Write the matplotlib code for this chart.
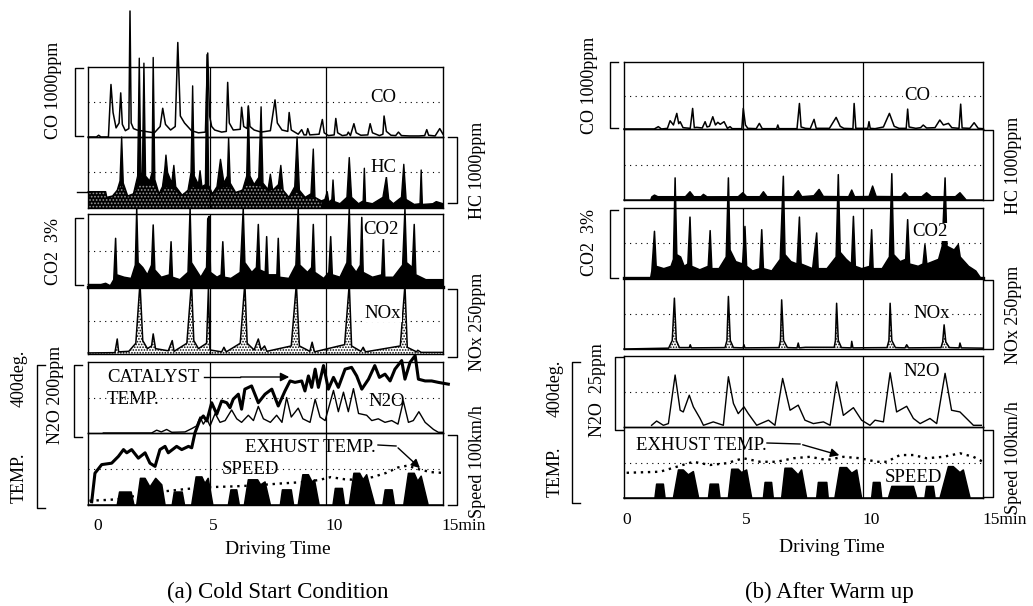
import numpy as np
import matplotlib
matplotlib.use('Agg')
import matplotlib.pyplot as plt
from matplotlib.lines import Line2D
from matplotlib.patches import FancyArrowPatch

plt.rcParams['font.family'] = ['Liberation Serif', 'DejaVu Serif']
plt.rcParams['hatch.linewidth'] = 0.8

# ---------------- (a) cold start : (time min, value) ----------------
CO_L = [(-0.25, 0), (0.1, 0), (0.2, 25), (0.3, 0), (0.62, 0), (0.73, 750), (0.82, 350), (0.95, 130),
        (1.08, 200), (1.15, 630), (1.22, 180), (1.35, 90), (1.5, 120), (1.55, 1800), (1.6, 200),
        (1.7, 120), (1.85, 100), (2.2, 80), (2.6, 60), (2.85, 150), (2.96, 410), (3.08, 180),
        (3.3, 100), (3.5, 150), (3.61, 1350), (3.72, 300), (3.9, 200), (4.2, 90), (4.5, 60),
        (4.8, 70), (4.9, 1200), (4.98, 300), (5.07, 150), (5.2, 100), (5.5, 70), (5.7, 80),
        (5.76, 780), (5.83, 200), (6.0, 100), (6.3, 110), (6.36, 425), (6.45, 150), (6.6, 120),
        (6.65, 445), (6.72, 150), (6.9, 100), (7.2, 70), (7.6, 90), (7.8, 530), (7.9, 200),
        (8.1, 100), (8.35, 80), (8.41, 350), (8.5, 100), (8.8, 40), (8.95, 105), (9.05, 30),
        (9.15, 30), (9.21, 120), (9.3, 30), (9.7, 40), (9.84, 250), (9.92, 60), (10.1, 20),
        (10.35, 30), (10.42, 265), (10.5, 60), (10.7, 20), (10.9, 30), (10.96, 70), (11.05, 20),
        (11.2, 190), (11.3, 60), (11.5, 25), (11.8, 30), (11.9, 190), (12.0, 60), (12.3, 20),
        (12.45, 40), (12.5, 300), (12.6, 80), (12.8, 25), (13.0, 20), (13.12, 70), (13.25, 20),
        (13.6, 15), (14.0, 15), (14.25, 20), (14.34, 105), (14.42, 25), (14.7, 15), (14.9, 120),
        (15.04, 40)]

HC_L = [(-0.25, 230), (0.5, 230), (0.55, 150), (0.8, 170), (1.0, 250), (1.12, 380), (1.19, 1000),
        (1.26, 350), (1.45, 170), (1.7, 200), (1.88, 450), (1.95, 2110), (2.02, 500), (2.08, 400),
        (2.15, 2040), (2.22, 450), (2.4, 380), (2.5, 500), (2.55, 2120), (2.62, 400), (2.8, 200),
        (2.95, 300), (3.05, 550), (3.1, 745), (3.17, 500), (3.35, 350), (3.44, 600), (3.52, 300),
        (3.8, 180), (4.05, 250), (4.18, 500), (4.25, 1720), (4.32, 450), (4.5, 330), (4.57, 525),
        (4.65, 300), (4.8, 330), (4.87, 2160), (4.94, 320), (5.1, 200), (5.3, 300), (5.45, 685),
        (5.6, 350), (5.75, 450), (5.8, 990), (5.87, 350), (6.1, 220), (6.4, 250), (6.58, 450),
        (6.65, 1425), (6.72, 450), (6.9, 330), (7.1, 430), (7.2, 1425), (7.28, 350), (7.5, 260),
        (7.6, 475), (7.7, 250), (7.95, 330), (8.05, 600), (8.15, 250), (8.4, 150), (8.65, 300),
        (8.75, 1000), (8.85, 250), (9.1, 150), (9.35, 200), (9.45, 830), (9.52, 150), (9.8, 100),
        (9.95, 120), (10.05, 230), (10.12, 80), (10.25, 120), (10.3, 395), (10.36, 90), (10.6, 60),
        (10.9, 150), (11.0, 710), (11.1, 150), (11.4, 60), (11.6, 100), (11.65, 560), (11.7, 80),
        (12.0, 60), (12.45, 150), (12.6, 440), (12.7, 120), (12.9, 60), (13.25, 150), (13.35, 615),
        (13.45, 120), (13.8, 50), (14.05, 60), (14.1, 535), (14.15, 50), (14.6, 60), (14.75, 90),
        (15.04, 60)]

HC_L_HUMP = [(-0.25, 230), (0.5, 230), (0.55, 130), (0.8, 160), (1.0, 240), (1.19, 330), (1.45, 160),
             (1.7, 200), (1.95, 330), (2.2, 320), (2.55, 330), (2.8, 190), (3.1, 290), (3.44, 260),
             (3.8, 170), (4.25, 300), (4.6, 260), (4.87, 280), (5.1, 190), (5.45, 280), (5.8, 300),
             (6.1, 210), (6.65, 330), (7.2, 300), (7.5, 240), (8.05, 280), (8.4, 140), (8.75, 220),
             (9.1, 120), (9.45, 150), (9.8, 90)]

CO2_L = [(-0.25, 0.1), (0.3, 0.1), (0.5, 0.15), (0.7, 0.05), (0.85, 0.3), (0.93, 2.0), (0.98, 0.5),
         (1.3, 0.4), (1.6, 0.35), (1.78, 0.9), (1.84, 3.2), (1.9, 1.0), (2.1, 0.8), (2.3, 0.5),
         (2.48, 0.9), (2.55, 2.55), (2.62, 0.7), (2.9, 0.4), (3.25, 0.5), (3.32, 1.86), (3.38, 0.4),
         (3.7, 0.3), (4.05, 0.6), (4.14, 3.2), (4.2, 1.0), (4.4, 0.7), (4.6, 0.4), (4.85, 0.8),
         (4.9, 2.8), (4.96, 2.9), (5.02, 0.6), (5.3, 0.4), (5.48, 0.5), (5.55, 1.86), (5.62, 0.4),
         (5.9, 0.35), (6.3, 0.6), (6.43, 3.2), (6.5, 1.0), (6.8, 0.6), (7.0, 0.8), (7.08, 2.57),
         (7.15, 0.7), (7.38, 0.6), (7.44, 2.07), (7.5, 0.5), (7.88, 0.5), (7.94, 2.0), (8.0, 0.4),
         (8.4, 0.35), (8.7, 0.9), (8.8, 3.2), (8.87, 0.9), (9.2, 0.6), (9.38, 0.8), (9.45, 2.57),
         (9.52, 0.6), (9.9, 0.35), (10.12, 0.6), (10.2, 2.07), (10.27, 0.5), (10.6, 0.4), (10.9, 1.0),
         (11.0, 3.2), (11.07, 0.9), (11.3, 0.6), (11.48, 0.9), (11.54, 2.86), (11.6, 0.6), (12.0, 0.4),
         (12.4, 0.5), (12.47, 2.07), (12.53, 0.4), (12.9, 0.4), (13.3, 0.9), (13.4, 3.2), (13.47, 1.0),
         (13.72, 0.8), (13.8, 2.57), (13.87, 0.5), (14.3, 0.3), (15.04, 0.3)]

NOX_L = [(-0.25, 4), (0.9, 5), (1.0, 56), (1.06, 8), (1.5, 10), (1.8, 40), (1.98, 265), (2.1, 50),
         (2.3, 20), (2.48, 30), (2.55, 75), (2.65, 20), (3.2, 12), (3.37, 50), (3.45, 10), (4.0, 40),
         (4.2, 268), (4.3, 50), (4.5, 20), (4.85, 40), (4.93, 245), (5.0, 15), (5.5, 8), (5.6, 25),
         (5.7, 8), (6.3, 40), (6.5, 265), (6.6, 40), (6.9, 15), (7.08, 56), (7.2, 15), (7.35, 30),
         (7.45, 10), (8.5, 30), (8.72, 262), (8.85, 30), (9.3, 10), (9.4, 44), (9.5, 8), (10.8, 35),
         (11.0, 262), (11.1, 30), (11.5, 10), (11.6, 25), (11.7, 8), (13.2, 30), (13.4, 258),
         (13.5, 25), (13.9, 8), (13.95, 14), (14.1, 6), (15.04, 6)]

N2O_L = [(0.4, 0), (2.48, 0), (2.7, 8), (2.9, 3), (3.13, 10), (3.35, 2), (3.92, 3), (4.2, 12),
         (4.42, 20), (4.57, 45), (4.71, 25), (4.86, 40), (5.0, 20), (5.22, 55), (5.43, 30), (5.65, 35),
         (5.93, 65), (6.15, 40), (6.36, 30), (6.65, 50), (6.87, 35), (7.08, 75), (7.3, 40), (7.6, 30),
         (7.87, 50), (8.1, 30), (8.3, 100), (8.5, 45), (8.8, 70), (9.0, 40), (9.31, 30), (9.53, 95),
         (9.74, 45), (9.96, 35), (10.32, 120), (10.53, 60), (10.75, 115), (10.96, 60), (11.18, 125),
         (11.4, 55), (11.75, 50), (11.97, 35), (12.25, 40), (12.54, 30), (12.83, 35), (13.1, 25),
         (13.33, 90), (13.55, 30), (13.76, 35), (14.0, 60), (14.27, 30), (14.63, 10), (14.84, 2),
         (15.04, 2)]

CAT_L = [(-0.1, 9), (0.04, 89), (0.33, 113), (0.76, 117), (1.05, 136), (1.27, 155), (1.41, 146),
         (1.62, 155), (1.91, 131), (2.2, 146), (2.41, 117), (2.63, 108), (2.84, 155), (3.06, 164),
         (3.2, 146), (3.56, 164), (3.78, 155), (4.07, 164), (4.21, 160), (4.35, 202), (4.57, 239),
         (4.71, 249), (4.86, 235), (5.07, 286), (5.29, 254), (5.5, 291), (5.72, 286), (5.86, 272),
         (6.0, 296), (6.22, 310), (6.36, 268), (6.5, 324), (6.79, 333), (7.08, 286), (7.37, 310),
         (7.66, 324), (7.94, 277), (8.23, 319), (8.45, 347), (8.66, 343), (8.95, 347), (9.09, 319),
         (9.24, 361), (9.38, 329), (9.53, 380), (9.67, 329), (9.89, 390), (10.1, 324), (10.32, 357),
         (10.53, 329), (10.82, 380), (11.1, 385), (11.32, 361), (11.54, 324), (11.83, 352),
         (12.1, 390), (12.3, 357), (12.54, 366), (12.76, 347), (12.97, 380), (13.26, 404),
         (13.4, 352), (13.62, 399), (13.84, 418), (13.98, 352), (14.27, 347), (14.55, 347),
         (14.84, 343), (15.27, 338)]

EXH_L = [(-0.2, 12), (0.5, 14), (1.0, 16), (2.0, 28), (3.0, 38), (4.0, 45), (5.0, 50), (6.0, 52),
         (7.0, 55), (8.0, 60), (9.0, 64), (9.7, 70), (10.2, 78), (10.8, 72), (11.4, 70), (12.0, 78),
         (12.6, 90), (13.1, 105), (13.5, 110), (14.0, 100), (14.5, 92), (15.0, 90)]

SPEED_L = [(-0.25, 0), (1.0, 0), (1.1, 18), (1.6, 18), (1.72, 0),
           (1.84, 0), (2.0, 37), (2.2, 37), (2.41, 25), (2.66, 37), (2.92, 28), (3.06, 0),
           (3.37, 0), (3.46, 18), (3.8, 18), (3.9, 0),
           (4.21, 0), (4.4, 39), (4.65, 39), (4.78, 30), (4.92, 37), (5.12, 0),
           (5.79, 0), (5.9, 21), (6.15, 21), (6.26, 0),
           (6.48, 0), (6.65, 35), (7.05, 35), (7.18, 28), (7.37, 32), (7.6, 0),
           (8.03, 0), (8.12, 21), (8.5, 21), (8.6, 0),
           (8.8, 0), (9.0, 42), (9.24, 42), (9.4, 32), (9.5, 35), (9.7, 0),
           (10.3, 0), (10.4, 23), (10.7, 23), (10.8, 0),
           (11.0, 0), (11.2, 44), (11.45, 44), (11.6, 35), (11.75, 42), (12.1, 0),
           (12.45, 0), (12.55, 21), (12.85, 21), (12.95, 0),
           (13.35, 0), (13.55, 44), (13.8, 44), (13.95, 33), (14.1, 40), (14.4, 0), (15.04, 0)]

# ---------------- (b) after warm up ----------------
CO_R = [(0.04, 0), (1.3, 0), (1.47, 35), (1.6, 0), (1.85, 10), (1.96, 124), (2.1, 60), (2.24, 233),
        (2.32, 80), (2.38, 109), (2.5, 20), (2.8, 10), (2.9, 307), (2.97, 20), (3.07, 25), (3.3, 15),
        (3.42, 109), (3.5, 30), (3.6, 40), (3.74, 183), (3.85, 60), (3.95, 100), (4.05, 70),
        (4.21, 109), (4.35, 10), (4.46, 35), (4.55, 5), (4.95, 5), (5.01, 307), (5.1, 60), (5.2, 10),
        (5.55, 5), (5.68, 84), (5.8, 5), (6.4, 5), (6.45, 60), (6.5, 5), (7.25, 5), (7.35, 381),
        (7.42, 30), (7.6, 10), (7.8, 5), (7.96, 144), (8.05, 10), (8.6, 10), (8.88, 173), (9.05, 40),
        (9.2, 10), (9.58, 5), (9.63, 381), (9.7, 10), (10.2, 10), (10.25, 110), (10.3, 10), (10.5, 5),
        (10.85, 30), (11.1, 233), (11.3, 40), (11.5, 10), (11.8, 10), (11.86, 297), (11.92, 30),
        (12.2, 10), (12.4, 20), (12.51, 59), (12.65, 15), (13.0, 20), (13.2, 134), (13.35, 60),
        (13.56, 84), (13.7, 20), (14.0, 10), (14.07, 371), (14.13, 15), (14.45, 10), (14.63, 94),
        (14.8, 10), (15.0, 5)]

HC_R = [(0.04, 0), (1.15, 0), (1.2, 45), (1.31, 70), (1.45, 47), (2.6, 47), (2.79, 117), (2.95, 47),
        (3.25, 47), (3.35, 80), (3.5, 45), (4.8, 47), (4.99, 103), (5.15, 47), (5.7, 47), (5.85, 117),
        (6.0, 47), (7.1, 47), (7.3, 131), (7.45, 47), (7.95, 60), (8.17, 150), (8.35, 50), (9.4, 47),
        (9.53, 141), (9.65, 47), (10.25, 50), (10.4, 197), (10.55, 50), (11.6, 47), (11.75, 103),
        (11.9, 47), (12.45, 47), (12.65, 103), (12.85, 47), (13.85, 47), (14.04, 103), (14.2, 40),
        (14.3, 0), (15.0, 0)]

CO2_R = [(0.04, 0), (1.15, 0), (1.2, 0.3), (1.31, 2.0), (1.38, 0.5), (1.7, 0.4), (2.0, 0.5), (2.1, 0.8),
         (2.17, 4.29), (2.24, 1.0), (2.4, 0.9), (2.55, 0.5), (2.7, 0.6), (2.79, 2.61), (2.86, 0.5),
         (3.2, 0.35), (3.55, 0.5), (3.63, 2.03), (3.7, 0.4), (4.0, 0.4), (4.3, 0.9), (4.39, 4.29),
         (4.46, 1.2), (4.7, 0.7), (4.98, 0.6), (5.08, 2.21), (5.15, 0.5), (5.4, 0.3), (5.7, 0.4),
         (5.78, 2.07), (5.85, 0.4), (6.2, 0.3), (6.55, 0.8), (6.68, 4.36), (6.75, 1.0), (7.0, 0.7),
         (7.25, 0.6), (7.35, 2.61), (7.42, 0.6), (7.9, 0.4), (8.07, 1.93), (8.13, 0.4), (8.5, 0.4),
         (8.88, 0.9), (8.97, 4.43), (9.05, 1.1), (9.3, 0.8), (9.52, 0.6), (9.6, 2.64), (9.68, 0.5),
         (9.95, 0.4), (10.28, 0.5), (10.36, 2.07), (10.42, 0.4), (10.8, 0.4), (11.1, 0.9),
         (11.2, 4.47), (11.28, 1.0), (11.55, 0.7), (11.78, 0.8), (11.86, 2.5), (11.94, 0.6),
         (12.3, 0.5), (12.5, 0.6), (12.58, 1.43), (12.66, 0.6), (13.15, 0.8), (13.3, 1.36),
         (13.42, 4.29), (13.5, 1.36), (13.8, 1.2), (13.97, 1.43), (14.05, 0.9), (14.4, 0.5),
         (14.7, 0.3), (14.9, 0), (15.0, 0)]

NOX_R = [(0.04, 0), (1.9, 3), (2.05, 30), (2.14, 179), (2.22, 30), (2.35, 5), (2.76, 5), (2.8, 15),
         (2.85, 4), (4.25, 5), (4.33, 30), (4.39, 185), (4.47, 30), (4.6, 5), (5.0, 4), (5.04, 15),
         (5.08, 4), (6.5, 5), (6.56, 30), (6.61, 173), (6.69, 30), (6.85, 5), (7.25, 4), (7.3, 21),
         (7.35, 4), (7.6, 6), (8.0, 6), (8.8, 6), (8.85, 30), (8.9, 161), (8.97, 30), (9.1, 5),
         (9.5, 4), (9.53, 27), (9.58, 4), (11.0, 5), (11.08, 30), (11.13, 161), (11.2, 30), (11.35, 5),
         (11.75, 4), (11.82, 15), (11.9, 4), (13.25, 5), (13.32, 25), (13.38, 85), (13.45, 25),
         (13.6, 5), (14.0, 4), (14.04, 21), (14.1, 4), (15.0, 3)]

N2O_R = [(1.19, 0.6), (1.4, 2.1), (1.68, 0.6), (1.89, 1.2), (2.17, 18.3), (2.38, 5.9), (2.51, 5.3),
         (2.76, 11.2), (2.93, 7.1), (3.21, 3.0), (3.35, 0.6), (3.76, 1.8), (4.18, 0.6), (4.39, 17.7),
         (4.6, 8.3), (4.8, 4.7), (5.04, 7.1), (5.22, 4.7), (5.57, 0.6), (6.06, 2.4), (6.33, 0.6),
         (6.65, 17.1), (6.96, 5.9), (7.3, 7.7), (7.58, 2.4), (7.93, 1.2), (8.35, 1.8), (8.63, 0.6),
         (8.9, 15.9), (9.18, 4.1), (9.6, 6.8), (9.94, 2.4), (10.29, 0.6), (10.5, 2.4), (10.85, 1.8),
         (11.13, 19.1), (11.4, 5.3), (11.82, 7.3), (12.1, 3.0), (12.38, 1.2), (12.79, 3.0),
         (13.07, 1.2), (13.42, 18.9), (13.69, 5.9), (14.04, 5.3), (14.6, 0.6), (14.93, 0.6)]

EXH_R = [(0.15, 71), (1.54, 74), (2.24, 88), (2.93, 102), (3.63, 93), (4.32, 98), (5.01, 112),
         (5.71, 102), (6.4, 102), (7.1, 112), (7.79, 116), (8.49, 107), (9.18, 116), (9.88, 112),
         (10.57, 102), (10.99, 102), (11.54, 121), (12.1, 121), (12.65, 112), (13.35, 116),
         (14.04, 126), (14.6, 116), (15.0, 102)]

SPEED_R = [(0.04, 0), (1.33, 0), (1.4, 19.5), (1.68, 19.5), (1.75, 0),
           (2.1, 0), (2.31, 39.5), (2.51, 39.5), (2.72, 32.6), (2.93, 37.2), (3.15, 0),
           (3.56, 0), (3.63, 19.5), (3.97, 19.5), (4.04, 0),
           (4.39, 0), (4.53, 40.5), (4.8, 40.5), (4.94, 35.8), (5.15, 39.5), (5.36, 0),
           (5.85, 0), (5.92, 21.9), (6.19, 21.9), (6.26, 0),
           (6.61, 0), (6.75, 41.9), (7.03, 41.9), (7.3, 32.6), (7.44, 39.5), (7.65, 0),
           (8.07, 0), (8.14, 21.9), (8.49, 21.9), (8.55, 0),
           (8.83, 0), (9.04, 42.8), (9.32, 42.8), (9.53, 34.9), (9.74, 39.5), (9.94, 0),
           (10.36, 0), (10.43, 21.9), (10.71, 21.9), (10.78, 0),
           (11.06, 0), (11.2, 16.3), (12.1, 16.3), (12.24, 0),
           (12.58, 0), (12.65, 16.3), (12.93, 16.3), (13.0, 0),
           (13.21, 0), (13.56, 44.2), (13.76, 44.2), (14.04, 35.8), (14.18, 39.5), (14.46, 0), (15.0, 0)]

TICK_TIMES = [0, 5, 10, 15]
TICK_LABELS = ['0', '5', '10', '15min']

W, H = 1033, 606
fig = plt.figure(figsize=(W / 100, H / 100), dpi=100)
fig.patch.set_facecolor('white')


def fx(x):
    return x / W


def fy(y):
    return 1 - y / H


def xy(pairs):
    a = np.array(pairs, dtype=float)
    return a[:, 0], a[:, 1]


def box(x0, x1, y0, y1, xlim, ylim, grid=True, frame=True):
    ax = fig.add_axes([fx(x0), fy(y1), (x1 - x0) / W, (y1 - y0) / H])
    ax.set_xlim(*xlim)
    ax.set_ylim(*ylim)
    ax.patch.set_visible(False)
    ax.set_xticks([])
    ax.set_yticks([])
    for s in ax.spines.values():
        s.set_linewidth(1.0)
        s.set_visible(frame)
    if grid:
        ax.axhline((ylim[0] + ylim[1]) / 2, color='k', lw=0.8, ls=(0, (1, 4)))
        for v in (5, 10):
            ax.axvline(v, color='k', lw=0.9)
    return ax


def line(ax, pairs, **kw):
    t, v = xy(pairs)
    ax.plot(t, v, color='k', clip_on=False, **kw)


def area(ax, pairs, lw=1.1, **kw):
    t, v = xy(pairs)
    ax.fill_between(t, 0, v, clip_on=False, linewidth=0, **kw)
    ax.plot(t, v, color='k', lw=lw, clip_on=False)


def text(x, y, s, **kw):
    kw.setdefault('ha', 'center')
    kw.setdefault('va', 'center')
    fig.text(fx(x), fy(y), s, **kw)


def bracket(x, y0, y1, dx):
    fig.add_artist(Line2D([fx(x + dx), fx(x), fx(x), fx(x + dx)],
                          [fy(y0), fy(y0), fy(y1), fy(y1)], color='k', lw=1.0))


def arrow(p0, p1):
    fig.add_artist(FancyArrowPatch((fx(p0[0]), fy(p0[1])), (fx(p1[0]), fy(p1[1])),
                                   transform=fig.transFigure, arrowstyle='-|>',
                                   mutation_scale=13, lw=1.0, color='k'))


def panel(xa, xb, xlim, yb, d):
    # yb: box edges top->bottom: CO top, CO/HC, HC bottom, CO2 top, CO2/NOx, NOx bottom, N2O top, N2O/speed, speed bottom
    co = box(xa, xb, yb[0], yb[1], xlim, (0, 1000))
    line(co, d['co'], lw=1.1)
    hc = box(xa, xb, yb[1], yb[2], xlim, (0, 1000))
    area(hc, d['hc'], facecolor='black', lw=1.0)
    if d.get('hump'):
        t, v = xy(d['hump'])
        hc.fill_between(t, 0, v, facecolor='none', edgecolor='#9a9a9a', hatch='.....', linewidth=0)
    co2 = box(xa, xb, yb[3], yb[4], xlim, (0, 3))
    area(co2, d['co2'], facecolor='black')
    co2.spines['bottom'].set_linewidth(2.4)
    nox = box(xa, xb, yb[4], yb[5], xlim, (0, 250))
    area(nox, d['nox'], facecolor='white', edgecolor='black', hatch='......', lw=1.1)
    n2o = box(xa, xb, yb[6], yb[7], xlim, (0, d['n2o_full']))
    line(n2o, d['n2o'], lw=1.0)
    spd = box(xa, xb, yb[7], yb[8], xlim, (0, 100))
    area(spd, d['speed'], facecolor='black')
    tmp = box(xa, xb, yb[6], yb[8], xlim, (0, 400), grid=False, frame=False)
    if d.get('cat'):
        line(tmp, d['cat'], lw=2.2)
    line(tmp, d['exh'], lw=1.7, ls=(0, (1, 2)))
    return tmp


# ---- (a) Cold start ----
panel(88, 443, (-0.26, 15.04), [67, 137, 208, 214, 287, 354, 362, 433, 505],
      dict(co=CO_L, hc=HC_L, hump=HC_L_HUMP, co2=CO2_L, nox=NOX_L, n2o=N2O_L, n2o_full=200,
           speed=SPEED_L, cat=CAT_L, exh=EXH_L))
fig.add_artist(Line2D([fx(77), fx(92)], [fy(192), fy(192)], color='k', lw=1.0))

# ---- (b) After warm up ----
panel(624, 983, (0.04, 15.0), [62, 129, 200, 208, 278, 349, 356, 427, 498],
      dict(co=CO_R, hc=HC_R, co2=CO2_R, nox=NOX_R, n2o=N2O_R, n2o_full=25,
           speed=SPEED_R, exh=EXH_R))

# ---- brackets ----
for (x, y0, y1, dx) in [(75, 68, 136, 8), (75, 218, 285, 8), (74, 365, 437, 8), (37, 365, 508, 8),
                        (457, 137, 203, -9), (457, 289, 357, -9), (457, 435, 505, -9),
                        (610, 62, 128, 8), (610, 210, 278, 8), (615, 357, 430, 8), (572, 362, 503, 8),
                        (993, 130, 200, -9), (993, 280, 349, -9), (993, 430, 497, -9)]:
    bracket(x, y0, y1, dx)

# ---- rotated axis labels ----
rot = dict(rotation=90, fontsize=13)
text(53, 90, 'CO 1000ppm', **rot)
text(53, 252, 'CO2  3%', **rot)
text(56, 395, 'N2O 200ppm', **rot)
text(19, 378, '400deg.', **rot)
text(19, 478, 'TEMP.', **rot)
text(477, 170, 'HC 1000ppm', **rot)
text(477, 322, 'NOx 250ppm', **rot)
text(477, 462, 'Speed 100km/h', **rot)

text(590, 85, 'CO 1000ppm', **rot)
text(590, 243, 'CO2  3%', **rot)
text(597, 390, 'N2O  25ppm', **rot)
text(555, 388, '400deg.', **rot)
text(555, 472, 'TEMP.', **rot)
text(1013, 165, 'HC 1000ppm', **rot)
text(1013, 315, 'NOx 250ppm', **rot)
text(1013, 458, 'Speed 100km/h', **rot)

# ---- in-plot labels ----
bg = dict(facecolor='white', edgecolor='none', pad=0.5)
lab = dict(fontsize=13.5)
text(383, 97, 'CO', bbox=bg, **lab)
text(383, 168, 'HC', bbox=bg, **lab)
text(381, 230, 'CO2', bbox=bg, **lab)
text(383, 313, 'NOx', bbox=bg, **lab)
text(387, 402, 'N2O', **lab)
text(107, 378, 'CATALYST', ha='left', **lab)
text(107, 400, 'TEMP.', ha='left', **lab)
text(310, 447, 'EXHUST TEMP.', **lab)
text(250, 470, 'SPEED', **lab)
fig.add_artist(Line2D([fx(204), fx(240)], [fy(377), fy(377)], color='k', lw=1.0))
arrow((238, 377), (292, 377))
fig.add_artist(Line2D([fx(378), fx(396)], [fy(445), fy(446)], color='k', lw=1.0))
arrow((396, 446), (422, 470))

text(917, 95, 'CO', bbox=bg, **lab)
text(930, 232, 'CO2', bbox=bg, **lab)
text(932, 313, 'NOx', bbox=bg, **lab)
text(922, 372, 'N2O', **lab)
text(701, 445, 'EXHUST TEMP.', **lab)
text(913, 478, 'SPEED', **lab)
fig.add_artist(Line2D([fx(767), fx(800)], [fy(443), fy(444)], color='k', lw=1.0))
arrow((800, 444), (842, 456))

# ---- time axes ----
for x0, x1, lo, hi, y in [(88, 443, -0.26, 15.04, 526), (624, 983, 0.04, 15.0, 520)]:
    for tt, s in zip(TICK_TIMES, TICK_LABELS):
        xp = x0 + (tt - lo) / (hi - lo) * (x1 - x0)
        text(xp - 1, y, s, ha='left', fontsize=12.5)
text(278, 550, 'Driving Time', fontsize=14)
text(832, 547, 'Driving Time', fontsize=14)
text(278, 592, '(a) Cold Start Condition', fontsize=16.5)
text(829, 592, '(b) After Warm up', fontsize=16.5)

fig.savefig('out.png', dpi=100, facecolor='white')
